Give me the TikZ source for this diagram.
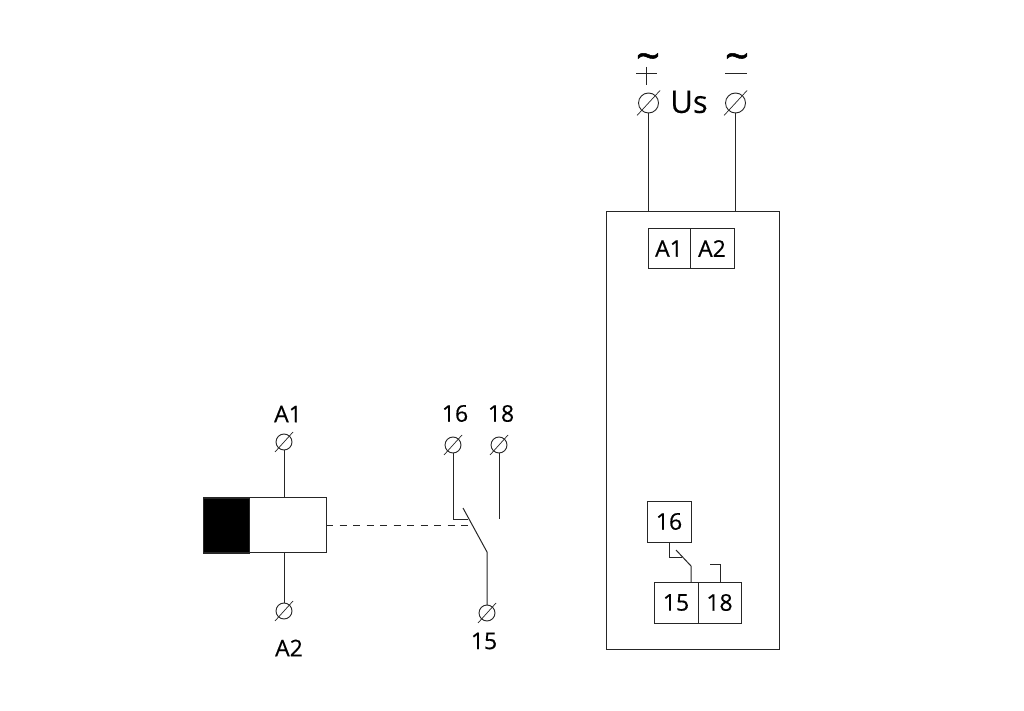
\documentclass[tikz,border=0pt]{standalone}
\usepackage{fontspec}
\setmainfont{Open Sans}
\newfontfamily\heavyfont[FakeBold=0.35]{Open Sans}
\newfontfamily\tildefont[FakeBold=1.2]{Open Sans}
\tikzset{
  wire/.style={line width=1pt,draw=black!85},
  label/.style={text=black,inner sep=0pt,outer sep=0pt,font=\heavyfont\fontsize{23}{23}\selectfont},
  term/.style={circle,draw=black!85,line width=0.9pt,inner sep=0pt,outer sep=0pt,fill=white},
  cell/.style={rectangle,draw=black!85,line width=1pt,inner sep=0pt,outer sep=0pt},
}
\begin{document}
\begin{tikzpicture}[x=1pt,y=1pt]
\path[use as bounding box,fill=white] (0,0) rectangle (1024,710);

% left part
\node[cell,fill=black,minimum width=46pt,minimum height=55pt] (core) at (226,184.5) {};
\node[cell,minimum width=123pt,minimum height=55pt] (coil) at (264.5,185) {};
\node[term,minimum size=16pt] (tAa) at (284,268) {};
\node[term,minimum size=16pt] (tAb) at (284,99) {};
\node[term,minimum size=16pt] (tsix) at (453,265) {};
\node[term,minimum size=16pt] (teight) at (499,265) {};
\node[term,minimum size=16pt] (tfive) at (487,97) {};
\draw[wire] (tAa) -- (tAa |- coil.north);
\draw[wire] (tAb) -- (tAb |- coil.south);
\coordinate (leverTop) at (463,202);
\coordinate (leverEnd) at (487,158);
\coordinate (contactA) at (468,191);
\coordinate (contactB) at (499,191);
\draw[wire] (tsix) |- (contactA);
\draw[wire] (teight) -- (contactB);
\draw[wire] (leverTop) -- (leverEnd) -- (tfive);
\draw[wire,dashed,dash pattern=on 7pt off 6.5pt,line width=0.8pt] (coil.east) -- (473,185);
\node[label] (lAa) at (288,296) {A1};
\node[label] (lAb) at (289,62) {A2};
\node[label] (lsix) at (455,296.5) {16};
\node[label] (leight) at (501,296.5) {18};
\node[label] (lfive) at (484,69) {15};

% right part
\node[cell,minimum width=173pt,minimum height=437pt] (relay) at (692.5,279.5) {};
\node[cell,label,minimum width=42pt,minimum height=40pt] (bAa) at (669,461.5) {\raisebox{-1.5pt}{A1}};
\node[cell,label,minimum width=44pt,minimum height=40pt] (bAb) at (712,461.5) {\raisebox{-1.5pt}{A2}};
\node[cell,label,minimum width=44pt,minimum height=41pt] (bsix) at (669,188.5) {\raisebox{-1pt}{16}};
\node[cell,label,minimum width=44pt,minimum height=41pt] (bfive) at (676,107.5) {\raisebox{-1pt}{15}};
\node[cell,label,minimum width=43pt,minimum height=41pt] (beight) at (719.5,107.5) {\raisebox{-1pt}{18}};
\node[term,minimum size=20pt] (tplus) at (648.5,607) {};
\node[term,minimum size=20pt] (tminus) at (735.5,607) {};
\draw[wire] (tplus) -- (tplus |- relay.north);
\draw[wire] (tminus) -- (tminus |- relay.north);
\coordinate (swA) at (682,153);
\coordinate (swTop) at (676,160);
\coordinate (swEnd) at (691,144);
\coordinate (swB) at (710,146);
\draw[wire] (bsix.south -| 669,0) |- (swA);
\draw[wire] (swTop) -- (swEnd) -- (swEnd |- bfive.north);
\draw[wire] (720,128) -- (720,146) -- (swB);
\node[label,font=\heavyfont\fontsize{31}{31}\selectfont] (lUs) at (689,608) {Us};
\node[label,font=\tildefont\fontsize{42}{42}\selectfont] (ltplus) at (648,648) {\char"007E};
\node[label,font=\tildefont\fontsize{42}{42}\selectfont] (ltminus) at (737,648) {\char"007E};
\draw[wire] (636,636) -- (657,636);
\draw[wire] (646,643) -- (646,625);
\draw[wire] (725,636) -- (747,636);

% slashes of the terminals
\foreach \t in {tAa,tAb,tsix,teight,tfive}
  \draw[line width=0.7pt,draw=black!85] ([shift={(-9,-10)}]\t.center) -- ([shift={(9,10)}]\t.center);
\foreach \t in {tplus,tminus}
  \draw[line width=0.7pt,draw=black!85] ([shift={(-11.5,-12.5)}]\t.center) -- ([shift={(11.5,12.5)}]\t.center);
\end{tikzpicture}
\end{document}
